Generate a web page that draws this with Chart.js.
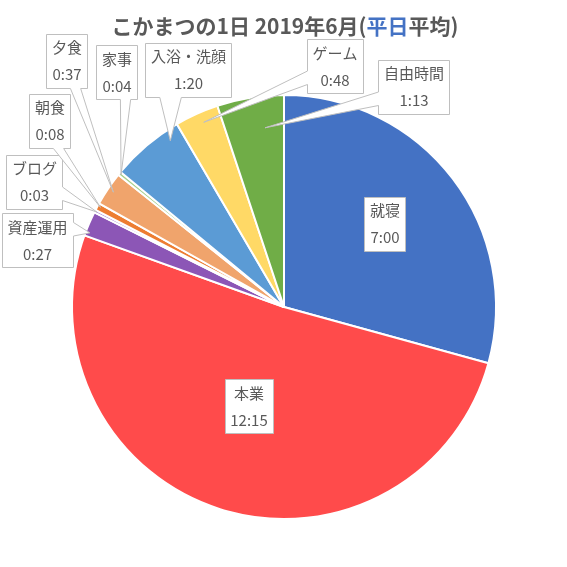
<!DOCTYPE html>
<html><head><meta charset="utf-8">
<script src="https://cdn.jsdelivr.net/npm/chart.js@4.4.0/dist/chart.umd.min.js"></script>
<style>html,body{margin:0;padding:0;background:#fff;}canvas{display:block;}</style>
</head><body>
<canvas id="c" width="567" height="567"></canvas>
<script>
// ---- data ----
const categories = ['就寝','本業','資産運用','ブログ','朝食','夕食','家事','入浴・洗顔','ゲーム','自由時間'];
const minutes = [420, 735, 27, 3, 8, 37, 4, 80, 48, 73];
const sliceColors = ['#4472C4','#FF4B4B','#8C56B6','#A98AD4','#ED7D31','#F0A46C','#A9D18E','#5B9BD5','#FFD966','#70AD47'];
const titleParts = [['こかまつの1日 2019年6月(', '#595959'], ['平日', '#4472C4'], ['平均)', '#595959']];

// ---- label layout (annotation boxes; center px) and anchor within slice (t along angle, r fraction) ----
const labelBox = [[385,223.5],[249,406],[37.5,240],[34.5,181.5],[50,120.5],[67,60.5],[117,72],[188.5,69.5],[335,66],[414,86.5]];
const labelAnchor = [null,null,[0.17,0.98],[0.5,0.99],[0.6,0.985],[0.5,0.97],[0.5,0.99],[0.8,0.95],[0.57,0.95],[0.67,0.85]];

function fmt(m){ const h=Math.floor(m/60), mm=m%60; return h+':'+(mm<10?'0':'')+mm; }

const FONT = '"Noto Sans CJK JP", "Noto Sans", sans-serif';

function calloutPath(ctx, x, y, w, h, tip){
  const l=x, t=y, r=x+w, b=y+h, hc=x+w/2, vc=y+h/2;
  ctx.beginPath();
  if(!tip){ ctx.rect(l,t,w,h); return; }
  const dx=tip[0]-hc, dy=tip[1]-vc;
  if(Math.abs(dx)<=w/2 && Math.abs(dy)<=h/2){ ctx.rect(l,t,w,h); return; }
  const dq=dx*h/w, dz=Math.abs(dy)-Math.abs(dq);
  const x1=l+w*(dx>0?7:2)/12, x2=l+w*(dx>0?10:5)/12;
  const y1=t+h*(dy>0?7:2)/12, y2=t+h*(dy>0?10:5)/12;
  ctx.moveTo(l,t);
  if(dz>0 && dy<0){ ctx.lineTo(x1,t); ctx.lineTo(tip[0],tip[1]); ctx.lineTo(x2,t); }
  ctx.lineTo(r,t);
  if(dz<=0 && dx>0){ ctx.lineTo(r,y1); ctx.lineTo(tip[0],tip[1]); ctx.lineTo(r,y2); }
  ctx.lineTo(r,b);
  if(dz>0 && dy>0){ ctx.lineTo(x2,b); ctx.lineTo(tip[0],tip[1]); ctx.lineTo(x1,b); }
  ctx.lineTo(l,b);
  if(dz<=0 && dx<0){ ctx.lineTo(l,y2); ctx.lineTo(tip[0],tip[1]); ctx.lineTo(l,y1); }
  ctx.closePath();
}

const labelsPlugin = {
  id:'callouts',
  afterDraw(chart){
    const ctx=chart.ctx;
    const meta=chart.getDatasetMeta(0);
    ctx.save();
    ctx.font='15px '+FONT;
    meta.data.forEach((arc,i)=>{
      const lines=[categories[i], fmt(minutes[i])];
      const tw=Math.max(...lines.map(s=>ctx.measureText(s).width));
      const w=tw+11, h=54;
      const [cx,cy]=labelBox[i];
      let tip=null;
      if(labelAnchor[i]){
        const [tt,rf]=labelAnchor[i];
        const a=arc.startAngle+(arc.endAngle-arc.startAngle)*tt;
        const rr=arc.outerRadius*rf;
        tip=[arc.x+Math.cos(a)*rr, arc.y+Math.sin(a)*rr];
      }
      calloutPath(ctx, Math.round(cx-w/2)+0.5, Math.round(cy-h/2)+0.5, Math.round(w), h, tip);
      ctx.fillStyle='#fff'; ctx.fill();
      ctx.strokeStyle='#BFBFBF'; ctx.lineWidth=1; ctx.stroke();
      ctx.fillStyle='#595959'; ctx.textAlign='center'; ctx.textBaseline='middle';
      ctx.fillText(lines[0], cx, cy-13);
      ctx.fillText(lines[1], cx, cy+14);
    });
    // title
    ctx.font='bold 21px '+FONT;
    const total=titleParts.reduce((s,p)=>s+ctx.measureText(p[0]).width,0);
    let x=285-total/2;
    ctx.textAlign='left'; ctx.textBaseline='middle';
    titleParts.forEach(p=>{ ctx.fillStyle=p[1]; ctx.fillText(p[0],x,26); x+=ctx.measureText(p[0]).width; });
    ctx.restore();
  }
};

new Chart(document.getElementById('c'),{
  type:'pie',
  data:{ labels:categories, datasets:[{ data:minutes, backgroundColor:sliceColors, borderColor:'#fff', borderWidth:2 }]},
  options:{
    responsive:false, animation:false, devicePixelRatio:1,
    layout:{ padding:{ left:71, right:70, top:94, bottom:47 } },
    plugins:{ legend:{display:false}, tooltip:{enabled:false}, title:{display:false} }
  },
  plugins:[labelsPlugin]
});
</script>
</body></html>
